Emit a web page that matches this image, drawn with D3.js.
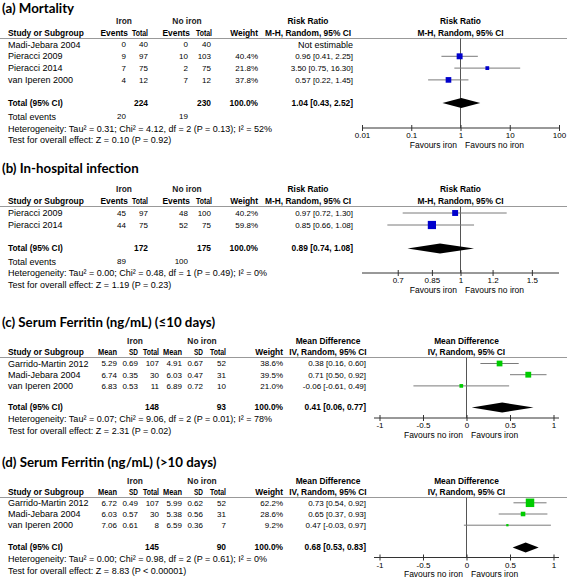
<!DOCTYPE html>
<html><head><meta charset="utf-8">
<script src="https://cdn.jsdelivr.net/npm/d3@7"></script>
<style>
body{margin:0;background:#fff}
svg text{font-family:"Liberation Sans",Arial,sans-serif;font-size:9px;fill:#000}
svg text.num{font-size:8px}
svg text.fav{font-size:8.5px}
svg text.bold{font-size:8.4px;font-weight:bold}
svg text.title{font-family:Lato,"Open Sans",sans-serif;font-size:13.3px;font-weight:bold}
</style>
</head><body><svg id="chart" width="567" height="579"></svg>
<script>
// ---------- (a) Mortality ----------
const mortalityStudies = ["Madi-Jebara 2004", "Pieracci 2009", "Pieracci 2014", "van Iperen 2000"];
const mortalityIronEvents = [0, 9, 7, 4];
const mortalityIronTotal = [40, 97, 75, 12];
const mortalityNoIronEvents = [0, 10, 2, 7];
const mortalityNoIronTotal = [40, 103, 75, 12];
const mortalityWeight = [null, 40.4, 21.8, 37.8];
const mortalityEst = [null, 0.96, 3.50, 0.57];
const mortalityLo = [null, 0.41, 0.75, 0.22];
const mortalityHi = [null, 2.25, 16.30, 1.45];
const mortalityPooled = [1.04, 0.43, 2.52];
const mortalityTotals = [224, 230];
const mortalityTotalEvents = [20, 19];
const mortalityStats = {tau2: "0.31", chi2: "4.12", df: 2, p: "0.13", i2: "52", z: "0.10", pz: "P = 0.92"};
const mortalityTicks = [0.01, 0.1, 1, 10, 100];
const mortalityTickLabels = ["0.01", "0.1", "1", "10", "100"];

// ---------- (b) In-hospital infection ----------
const infectionStudies = ["Pieracci 2009", "Pieracci 2014"];
const infectionIronEvents = [45, 44];
const infectionIronTotal = [97, 75];
const infectionNoIronEvents = [48, 52];
const infectionNoIronTotal = [100, 75];
const infectionWeight = [40.2, 59.8];
const infectionEst = [0.97, 0.85];
const infectionLo = [0.72, 0.66];
const infectionHi = [1.30, 1.08];
const infectionPooled = [0.89, 0.74, 1.08];
const infectionTotals = [172, 175];
const infectionTotalEvents = [89, 100];
const infectionStats = {tau2: "0.00", chi2: "0.48", df: 1, p: "0.49", i2: "0", z: "1.19", pz: "P = 0.23"};
const infectionTicks = [0.7, 0.85, 1, 1.2, 1.5];
const infectionTickLabels = ["0.7", "0.85", "1", "1.2", "1.5"];

// ---------- (c) Serum Ferritin (<=10 days) ----------
const ferritinEarlyStudies = ["Garrido-Martin 2012", "Madi-Jebara 2004", "van Iperen 2000"];
const ferritinEarlyIronMean = [5.29, 6.74, 6.83];
const ferritinEarlyIronSD = [0.69, 0.35, 0.53];
const ferritinEarlyIronTotal = [107, 30, 11];
const ferritinEarlyNoIronMean = [4.91, 6.03, 6.89];
const ferritinEarlyNoIronSD = [0.67, 0.47, 0.72];
const ferritinEarlyNoIronTotal = [52, 31, 10];
const ferritinEarlyWeight = [38.6, 39.5, 21.0];
const ferritinEarlyEst = [0.38, 0.71, -0.06];
const ferritinEarlyLo = [0.16, 0.50, -0.61];
const ferritinEarlyHi = [0.60, 0.92, 0.49];
const ferritinEarlyPooled = [0.41, 0.06, 0.77];
const ferritinEarlyTotals = [148, 93];
const ferritinEarlyStats = {tau2: "0.07", chi2: "9.06", df: 2, p: "0.01", i2: "78", z: "2.31", pz: "P = 0.02"};

// ---------- (d) Serum Ferritin (>10 days) ----------
const ferritinLateStudies = ["Garrido-Martin 2012", "Madi-Jebara 2004", "van Iperen 2000"];
const ferritinLateIronMean = [6.72, 6.03, 7.06];
const ferritinLateIronSD = [0.49, 0.57, 0.61];
const ferritinLateIronTotal = [107, 30, 8];
const ferritinLateNoIronMean = [5.99, 5.38, 6.59];
const ferritinLateNoIronSD = [0.62, 0.56, 0.36];
const ferritinLateNoIronTotal = [52, 31, 7];
const ferritinLateWeight = [62.2, 28.6, 9.2];
const ferritinLateEst = [0.73, 0.65, 0.47];
const ferritinLateLo = [0.54, 0.37, -0.03];
const ferritinLateHi = [0.92, 0.93, 0.97];
const ferritinLatePooled = [0.68, 0.53, 0.83];
const ferritinLateTotals = [145, 90];
const ferritinLateStats = {tau2: "0.00", chi2: "0.98", df: 2, p: "0.61", i2: "0", z: "8.83", pz: "P < 0.00001"};

const ferritinTicks = [-1, -0.5, 0, 0.5, 1];
const ferritinTickLabels = ["-1", "-0.5", "0", "0.5", "1"];

// ---------- drawing ----------
const svg = d3.select("#chart");
const f2 = v => v.toFixed(2);
const ciText = (e, l, h) => `${f2(e)} [${f2(l)}, ${f2(h)}]`;
const sizeScale = d3.scaleLinear().domain([0, 100]).range([1.22, 12.9]);
const narrowHeaders = {"Total": 16, "SD": 9, "Mean": 19};

function txt(x, y, s, anchor, cls) {
  const t = svg.append("text").attr("x", x).attr("y", y).attr("dy", "0.35em")
    .attr("text-anchor", anchor || "start").text(s);
  if (cls) t.attr("class", cls);
  return t;
}

function drawPanel(p) {
  txt(2, p.titleY, p.title, "start", "title");
  const c = p.cols;
  txt(c.groupIron, p.h1, "Iron", "middle", "bold").style("fill", "#222");
  txt(c.groupNoIron, p.h1, "No iron", "middle", "bold").style("fill", "#222");
  txt(8, p.h2, "Study or Subgroup", "start", "bold");
  c.headers.forEach(h => {
    const t = txt(h[0], p.h2, h[1], "end", "bold");
    if (narrowHeaders[h[1]]) t.attr("textLength", narrowHeaders[h[1]]).attr("lengthAdjust", "spacingAndGlyphs");
  });
  txt(c.effCenter, p.h1, p.effName, "middle", "bold");
  txt(c.effCenter, p.h2, p.method, "middle", "bold");
  txt(p.plotCenter, p.h1, p.effName, "middle", "bold");
  txt(p.plotCenter, p.h2, p.method, "middle", "bold");
  svg.append("line").attr("x1", 0).attr("x2", 567).attr("y1", p.lineY).attr("y2", p.lineY)
    .attr("stroke", "#999").attr("stroke-width", 1);

  const x = p.scale;
  p.rows.forEach((r, i) => {
    const y = p.rowY0 + i * p.rowStep;
    txt(8, y, r.study, "start");
    r.cells.forEach((v, j) => txt(c.valueX[j], y, v, "end", "num"));
    txt(c.weightX, y, r.weight == null ? "" : r.weight.toFixed(1) + "%", "end", "num");
    txt(c.effX, y, r.est == null ? "Not estimable" : ciText(r.est, r.lo, r.hi), "end", r.est == null ? null : "num");
  });

  svg.append("line").attr("x1", x(p.ref)).attr("x2", x(p.ref))
    .attr("y1", p.lineY).attr("y2", p.axisY).attr("stroke", "#555").attr("stroke-width", 1);

  p.rows.forEach((r, i) => {
    if (r.est == null) return;
    const y = p.rowY0 + i * p.rowStep;
    svg.append("line").attr("x1", x(r.lo)).attr("x2", x(r.hi)).attr("y1", y).attr("y2", y)
      .attr("stroke", "#7a7a7a").attr("stroke-width", 1);
    const s = sizeScale(r.weight);
    svg.append("rect").attr("x", x(r.est) - s / 2).attr("y", y - s / 2).attr("width", s).attr("height", s)
      .attr("fill", p.color);
  });

  const ty = p.totalY;
  txt(8, ty, "Total (95% CI)", "start", "bold");
  txt(c.totalX[0], ty, String(p.totals[0]), "end", "bold");
  txt(c.totalX[1], ty, String(p.totals[1]), "end", "bold");
  txt(c.weightX, ty, "100.0%", "end", "bold");
  txt(c.effX, ty, ciText(p.pooled[0], p.pooled[1], p.pooled[2]), "end", "bold");
  const [pe, pl, ph] = p.pooled;
  svg.append("path")
    .attr("d", `M${x(pl)},${ty}L${x(pe)},${ty - 5}L${x(ph)},${ty}L${x(pe)},${ty + 5}Z`)
    .attr("fill", "#000");

  if (p.totalEvents) {
    txt(8, p.eventsY, "Total events", "start");
    txt(c.valueX[0], p.eventsY, String(p.totalEvents[0]), "end", "num");
    txt(c.valueX[2], p.eventsY, String(p.totalEvents[1]), "end", "num");
  }
  const st = p.stats;
  txt(8, p.hetY, `Heterogeneity: Tau² = ${st.tau2}; Chi² = ${st.chi2}, df = ${st.df} (P = ${st.p}); I² = ${st.i2}%`, "start");
  txt(8, p.testY, `Test for overall effect: Z = ${st.z} (${st.pz})`, "start");

  const ax = svg.append("g").attr("transform", `translate(0,${p.axisY})`)
    .call(d3.axisBottom(x).tickValues(p.ticks).tickFormat((d, i) => p.tickLabels[i]).tickSize(3).tickSizeOuter(0));
  ax.select(".domain").remove();
  ax.append("line").attr("x1", p.axisExtent[0]).attr("x2", p.axisExtent[1]).attr("y1", 0).attr("y2", 0)
    .attr("stroke", "#333");
  ax.selectAll(".tick line").attr("y1", -3).attr("y2", 3).attr("stroke", "#333");
  ax.selectAll(".tick text").attr("y", 7.5).attr("dy", "0.35em").attr("class", "num")
    .attr("font-family", null).attr("font-size", null).attr("fill", "#000");
  const xr = x(p.ref);
  txt(xr - 3.5, p.axisY + p.favDy, p.favLeft, "end", "fav");
  txt(xr + 4.5, p.axisY + p.favDy, p.favRight, "start", "fav");
}

const dichCols = {
  groupIron: 124, groupNoIron: 187,
  headers: [[128, "Events"], [148, "Total"], [190, "Events"], [212, "Total"], [258, "Weight"]],
  valueX: [126, 148, 188, 211], totalX: [148, 211], weightX: 258, effX: 353, effCenter: 308
};
const contCols = {
  groupIron: 135, groupNoIron: 202,
  headers: [[117, "Mean"], [138, "SD"], [159, "Total"], [182, "Mean"], [203, "SD"], [226, "Total"], [283, "Weight"]],
  valueX: [117, 138, 159, 182, 203, 226], totalX: [159, 226], weightX: 283, effX: 366, effCenter: 328
};

function dichRows(st, ie, it, ne, nt, w, e, l, h) {
  return st.map((s, i) => ({study: s, cells: [ie[i], it[i], ne[i], nt[i]].map(String), weight: w[i], est: e[i], lo: l[i], hi: h[i]}));
}
function contRows(st, im, isd, it, nm, nsd, nt, w, e, l, h) {
  return st.map((s, i) => ({study: s, cells: [f2(im[i]), f2(isd[i]), String(it[i]), f2(nm[i]), f2(nsd[i]), String(nt[i])], weight: w[i], est: e[i], lo: l[i], hi: h[i]}));
}

const logA = d3.scaleLog().domain([0.01, 100]).range([362, 559]);
const logB = d3.scaleLog().domain([1 / 1.75, 1.75]).range([362, 559]);
const linCD = d3.scaleLinear().domain([-1, 1]).range([379.5, 553.5]);

drawPanel({
  title: "(a) Mortality", titleY: 8, h1: 21.5, h2: 33, lineY: 38.5,
  cols: dichCols, effName: "Risk Ratio", method: "M-H, Random, 95% CI", plotCenter: logA(1),
  rows: dichRows(mortalityStudies, mortalityIronEvents, mortalityIronTotal, mortalityNoIronEvents, mortalityNoIronTotal, mortalityWeight, mortalityEst, mortalityLo, mortalityHi),
  rowY0: 44.5, rowStep: 11.8, totalY: 103, eventsY: 116.5, hetY: 128.5, testY: 140, axisY: 128,
  totals: mortalityTotals, totalEvents: mortalityTotalEvents, pooled: mortalityPooled, stats: mortalityStats,
  scale: logA, ref: 1, ticks: mortalityTicks, tickLabels: mortalityTickLabels, axisExtent: [362, 559],
  favLeft: "Favours iron", favRight: "Favours no iron", favDy: 17.5, color: "#0000cc"
});
drawPanel({
  title: "(b) In-hospital infection", titleY: 168, h1: 189, h2: 201, lineY: 206.5,
  cols: dichCols, effName: "Risk Ratio", method: "M-H, Random, 95% CI", plotCenter: logB(1),
  rows: dichRows(infectionStudies, infectionIronEvents, infectionIronTotal, infectionNoIronEvents, infectionNoIronTotal, infectionWeight, infectionEst, infectionLo, infectionHi),
  rowY0: 213, rowStep: 12, totalY: 248.5, eventsY: 261.5, hetY: 273, testY: 285, axisY: 273,
  totals: infectionTotals, totalEvents: infectionTotalEvents, pooled: infectionPooled, stats: infectionStats,
  scale: logB, ref: 1, ticks: infectionTicks, tickLabels: infectionTickLabels, axisExtent: [362, 559],
  favLeft: "Favours iron", favRight: "Favours no iron", favDy: 17.5, color: "#0000cc"
});
drawPanel({
  title: "(c) Serum Ferritin (ng/mL) (≤10 days)", titleY: 322, h1: 341, h2: 352.5, lineY: 357.5,
  cols: contCols, effName: "Mean Difference", method: "IV, Random, 95% CI", plotCenter: linCD(0),
  rows: contRows(ferritinEarlyStudies, ferritinEarlyIronMean, ferritinEarlyIronSD, ferritinEarlyIronTotal, ferritinEarlyNoIronMean, ferritinEarlyNoIronSD, ferritinEarlyNoIronTotal, ferritinEarlyWeight, ferritinEarlyEst, ferritinEarlyLo, ferritinEarlyHi),
  rowY0: 363.5, rowStep: 11.2, totalY: 407.5, hetY: 419, testY: 430.5, axisY: 418,
  totals: ferritinEarlyTotals, pooled: ferritinEarlyPooled, stats: ferritinEarlyStats,
  scale: linCD, ref: 0, ticks: ferritinTicks, tickLabels: ferritinTickLabels, axisExtent: [374, 559],
  favLeft: "Favours no iron", favRight: "Favours iron", favDy: 17.5, color: "#00cc00"
});
drawPanel({
  title: "(d) Serum Ferritin (ng/mL) (>10 days)", titleY: 462, h1: 481, h2: 492.5, lineY: 497.5,
  cols: contCols, effName: "Mean Difference", method: "IV, Random, 95% CI", plotCenter: linCD(0),
  rows: contRows(ferritinLateStudies, ferritinLateIronMean, ferritinLateIronSD, ferritinLateIronTotal, ferritinLateNoIronMean, ferritinLateNoIronSD, ferritinLateNoIronTotal, ferritinLateWeight, ferritinLateEst, ferritinLateLo, ferritinLateHi),
  rowY0: 502.8, rowStep: 11.2, totalY: 547.5, hetY: 559, testY: 570.5, axisY: 557.5,
  totals: ferritinLateTotals, pooled: ferritinLatePooled, stats: ferritinLateStats,
  scale: linCD, ref: 0, ticks: ferritinTicks, tickLabels: ferritinTickLabels, axisExtent: [374, 559],
  favLeft: "Favours no iron", favRight: "Favours iron", favDy: 16.8, color: "#00cc00"
});
</script>
</body></html>
